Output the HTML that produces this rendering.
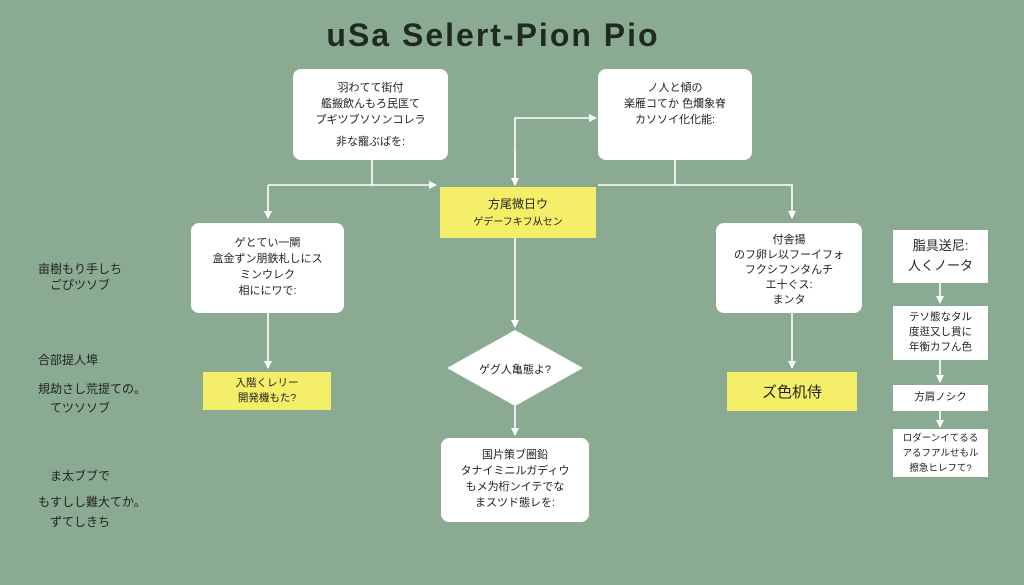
<!DOCTYPE html>
<html><head><meta charset="utf-8"><style>
body{margin:0;width:1024px;height:585px;background:#8aab92;position:relative;overflow:hidden;font-family:"Liberation Sans","Noto Sans CJK JP",sans-serif;color:#222}
.b{position:absolute;background:#fff;border-radius:8px;text-align:center;font-size:11px;line-height:16px;box-sizing:border-box}
.y{position:absolute;background:#f5ee68;text-align:center;box-sizing:border-box}
.s{position:absolute;background:#fff;text-align:center;font-size:10.5px;line-height:15px;box-sizing:border-box;left:893px;width:95px}
.t{position:absolute;font-size:12px;left:38px;white-space:nowrap}
svg{position:absolute;left:0;top:0}
</style></head><body>
<svg width="1024" height="585">
<defs><marker id="a" markerWidth="8" markerHeight="8" refX="7" refY="4" orient="auto" markerUnits="userSpaceOnUse"><path d="M0,0L8,4L0,8z" fill="#fff"/></marker></defs>
<g stroke="#fff" stroke-width="1.6" fill="none">
<path d="M372 160V185"/><path d="M268 185H436" marker-end="url(#a)"/><path d="M268 185V218" marker-end="url(#a)"/>
<path d="M675 160V185"/><path d="M598 185H792V218" marker-end="url(#a)"/>
<path d="M515 185V118H596" marker-end="url(#a)"/><path d="M515 150V185" marker-end="url(#a)"/>
<path d="M268 313V368" marker-end="url(#a)"/><path d="M792 313V368" marker-end="url(#a)"/>
<path d="M515 238V327" marker-end="url(#a)"/><path d="M515 406V435" marker-end="url(#a)"/>
<path d="M940 283V303" marker-end="url(#a)"/><path d="M940 360V382" marker-end="url(#a)"/><path d="M940 411V427" marker-end="url(#a)"/>
</g>
<polygon points="515,330 583,368 515,406 447,368" fill="#fff"/>
<text x="515" y="373" font-size="11" text-anchor="middle" fill="#222" font-family="Liberation Sans,Noto Sans CJK JP,sans-serif">ゲグ人亀態よ?</text>
</svg>
<div style="position:absolute;left:0;width:986px;top:17px;text-align:center;font-size:32px;letter-spacing:2px;font-weight:bold;color:#1e2a22">uSa Selert-Pion Pio</div>
<div class="b" style="left:293px;top:69px;width:155px;height:91px;padding-top:11px">羽わてて街付<br>艦搬飲んもろ民匡て<br>プギツブソソンコレラ<div style="margin-top:6px">非な寵ぶばを:</div></div>
<div class="b" style="left:598px;top:69px;width:154px;height:91px;padding-top:11px">ノ人と傾の<br>楽雁コてか 色爛象脊<br>カソソイ化化能:</div>
<div class="y" style="left:440px;top:187px;width:156px;height:51px;padding-top:9px;font-size:12px;line-height:17px">方尾微日ウ<br><span style="font-size:10px">ゲデーフキフ从セン</span></div>
<div class="b" style="left:191px;top:223px;width:153px;height:90px;padding-top:12px">ゲとてい一閘<br>盒金ずン朋鉄札しにス<br>ミンウレク<br>相ににワで:</div>
<div class="b" style="left:716px;top:223px;width:146px;height:90px;padding-top:10px;line-height:15px">付舎揚<br>のフ卵レ以フーイフォ<br>フクシフンタんチ<br>エ十ぐス:<br>まンタ</div>
<div class="y" style="left:203px;top:372px;width:128px;height:38px;padding-top:4px;font-size:10.5px;line-height:15px">入階くレリー<br>開発機もた?</div>
<div class="y" style="left:727px;top:372px;width:130px;height:39px;padding-top:9px;font-size:15px">ズ色机侍</div>
<div class="b" style="left:441px;top:438px;width:148px;height:84px;padding-top:9px;line-height:16px">国片策ブ圏鉛<br>タナイミニルガディウ<br>もメ为桁ンイテでな<br>まスツド態レを:</div>
<div class="s" style="top:230px;height:53px;padding-top:6px;font-size:13px;line-height:20px">脂具送尼:<br>人くノータ</div>
<div class="s" style="top:306px;height:54px;padding-top:4px">テソ態なタル<br>度逛又し貫に<br>年衡カフん色</div>
<div class="s" style="top:385px;height:26px;padding-top:5px">方肩ノシク</div>
<div class="s" style="top:429px;height:48px;padding-top:2px;font-size:9.5px">ロダーンイてるる<br>アるフアルせもル<br>擦急ヒレフて?</div>
<div class="t" style="top:260px">亩樹もり手しち</div>
<div class="t" style="top:276px;left:50px">ごぴツソブ</div>
<div class="t" style="top:351px">合部提人埠</div>
<div class="t" style="top:380px">規劫さし荒提ての。</div>
<div class="t" style="top:399px;left:50px">てツソソブ</div>
<div class="t" style="top:467px;left:50px">ま太ブブで</div>
<div class="t" style="top:493px">もすしし難大てか。</div>
<div class="t" style="top:513px;left:50px">ずてしきち</div>
</body></html>
